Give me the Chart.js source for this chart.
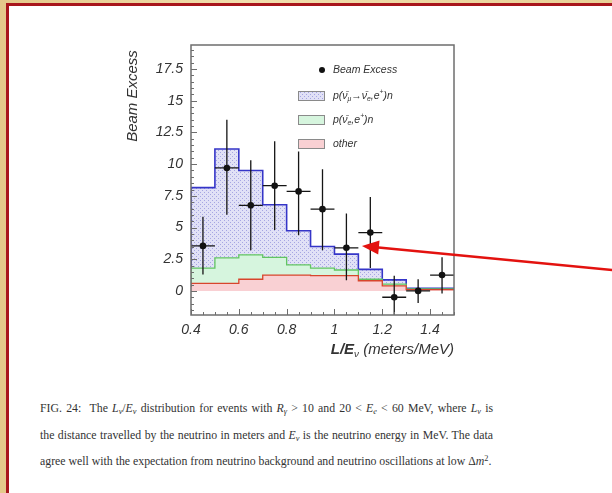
<!DOCTYPE html>
<html>
<head>
<meta charset="utf-8">
<script src="https://cdn.jsdelivr.net/npm/chart.js@4.4.1/dist/chart.umd.min.js"></script>
<style>
  body { margin: 0; }
  #frame { position: relative; width: 612px; height: 493px; overflow: hidden;
           background: linear-gradient(90deg, #e4c98a, #f1dfae 40%, #e8d197); }
  #paper { position: absolute; left: 6px; top: 3px; right: 0; bottom: 0; background: #fff;
           border-left: 3px solid #a8161c; border-top: 3px solid #a8161c; }
  #chart { position: absolute; left: 0; top: 0; }
  #caption { position: absolute; left: 40px; top: 395px; width: 453px;
             font-family: "Liberation Serif", "DejaVu Serif", serif; font-size: 11.8px; color: #333; }
  #caption div { line-height: 26.5px; text-align: justify; text-align-last: justify; white-space: nowrap; }
  #caption div.last { text-align-last: left; }
  #caption sub { font-size: 70%; vertical-align: -0.3em; line-height: 0; }
  #caption sup { font-size: 70%; vertical-align: 0.5em; line-height: 0; }
</style>
</head>
<body>
<div id="frame">
  <div id="paper"></div>
  <canvas id="chart" width="612" height="380"></canvas>
  <div id="caption">
    <div>FIG. 24: &nbsp;The <i>L<sub>ν</sub></i>/<i>E<sub>ν</sub></i> distribution for events with <i>R<sub>γ</sub></i> &gt; 10 and 20 &lt; <i>E<sub>e</sub></i> &lt; 60 MeV, where <i>L<sub>ν</sub></i> is</div>
    <div>the distance travelled by the neutrino in meters and <i>E<sub>ν</sub></i> is the neutrino energy in MeV. The data</div>
    <div class="last">agree well with the expectation from neutrino background and neutrino oscillations at low Δ<i>m</i><sup>2</sup>.</div>
  </div>
</div>
<script>
// bin edges in L/E (meters/MeV), one value per bin
const binEdges = [0.4, 0.5, 0.6, 0.7, 0.8, 0.9, 1.0, 1.1, 1.2, 1.3, 1.4, 1.5];
// stacked histogram tops
const otherTop = [0.3, 0.6, 0.6, 0.92, 1.25, 1.25, 1.2, 1.2, 0.8, 0.4, 0.1];
const nueTop   = [0.53, 1.8, 2.6, 2.85, 2.65, 2.05, 1.8, 1.65, 0.92, 0.53, 0.15];
const oscTop   = [1.65, 8.15, 11.2, 9.5, 6.8, 4.75, 3.5, 2.9, 1.7, 0.87, 0.2];
// beam excess points with error bars
const dataX    = [0.45, 0.55, 0.65, 0.75, 0.85, 0.95, 1.05, 1.15, 1.25, 1.35, 1.45];
const excess   = [3.55, 9.7, 6.75, 8.3, 7.85, 6.45, 3.4, 4.6, -0.5, 0.0, 1.25];
const errLow   = [1.3, 6.0, 3.2, 4.8, 4.4, 3.2, 0.85, 1.8, -2.4, -0.95, -0.2];
const errHigh  = [5.85, 13.5, 10.3, 11.8, 11.0, 9.6, 6.1, 7.4, 1.2, 0.92, 2.65];
const halfBin = 0.05;
// y tick labels shown
const yTickLabels = ['0', '2.5', '5', '7.5', '10', '12.5', '15', '17.5'];

function stepPoints(vals) {
    const pts = vals.map((v, i) => ({ x: binEdges[i], y: v }));
    pts.push({ x: binEdges[binEdges.length - 1], y: vals[vals.length - 1] });
    return pts;
}

// light blue cross-hatch for the oscillation component
function hatchPattern() {
    const c = document.createElement('canvas');
    c.width = 4; c.height = 4;
    const g = c.getContext('2d');
    g.fillStyle = '#e1e1f6';
    g.fillRect(0, 0, 4, 4);
    g.fillStyle = '#a6a6e2';
    g.fillRect(0, 0, 1, 1);
    g.fillRect(2, 2, 1, 1);
    return g.createPattern(c, 'repeat');
}
const hatch = hatchPattern();

const axisFont = '"Liberation Sans", Arial, sans-serif';

function richText(ctx, x, y, parts, size) {
    parts.forEach(p => {
        const s = p.sub || p.sup ? size * 0.65 : size;
        ctx.font = 'italic ' + (p.bold ? 'bold ' : '') + s + 'px ' + axisFont;
        const dy = p.sub ? size * 0.3 : (p.sup ? -size * 0.4 : 0);
        ctx.fillText(p.t, x, y + dy);
        x += ctx.measureText(p.t).width;
    });
    return x;
}
function richWidth(ctx, parts, size) {
    let w = 0;
    parts.forEach(p => {
        const s = p.sub || p.sup ? size * 0.65 : size;
        ctx.font = 'italic ' + (p.bold ? 'bold ' : '') + s + 'px ' + axisFont;
        w += ctx.measureText(p.t).width;
    });
    return w;
}

const decorPlugin = {
    id: 'decor',
    afterDatasetsDraw(chart) {
        const { ctx, chartArea: a, scales: { x, y } } = chart;
        ctx.save();
        ctx.beginPath();
        ctx.rect(a.left, a.top, a.right - a.left, a.bottom - a.top);
        ctx.clip();

        // error bars
        ctx.strokeStyle = '#151515';
        ctx.lineWidth = 1.3;
        dataX.forEach((cx, i) => {
            const px = x.getPixelForValue(cx);
            const py = y.getPixelForValue(excess[i]);
            ctx.beginPath();
            ctx.moveTo(px, y.getPixelForValue(errLow[i]));
            ctx.lineTo(px, y.getPixelForValue(errHigh[i]));
            ctx.moveTo(x.getPixelForValue(cx - halfBin), py);
            ctx.lineTo(x.getPixelForValue(cx + halfBin), py);
            ctx.stroke();
        });
        ctx.restore();

        // frame and inward ticks
        ctx.save();
        ctx.strokeStyle = '#6e6e6e';
        ctx.lineWidth = 1.5;
        ctx.strokeRect(a.left, a.top, a.right - a.left, a.bottom - a.top);
        ctx.lineWidth = 1;
        ctx.beginPath();
        for (let k = -3; k <= 38; k++) {
            const v = k * 0.5;
            if (v < y.min || v > y.max) continue;
            const py = Math.round(y.getPixelForValue(v)) + 0.5;
            const len = k % 5 === 0 ? 6 : 3;
            ctx.moveTo(a.left, py);
            ctx.lineTo(a.left + len, py);
        }
        for (let k = 8; k <= 30; k++) {
            const v = k * 0.05;
            const px = Math.round(x.getPixelForValue(v)) + 0.5;
            const len = k % 4 === 0 ? 6 : 3;
            ctx.moveTo(px, a.bottom);
            ctx.lineTo(px, a.bottom - len);
        }
        ctx.stroke();

        // legend
        const lx = a.left + 107, tx = a.left + 142;
        ctx.fillStyle = '#111';
        ctx.beginPath();
        ctx.arc(a.left + 131, a.top + 25, 3, 0, Math.PI * 2);
        ctx.fill();
        const boxes = [
            { y: a.top + 51, fill: hatch, parts: [{ t: 'p(ν̄' }, { t: 'μ', sub: 1 }, { t: '→ν̄' }, { t: 'e', sub: 1 }, { t: ',e' }, { t: '+', sup: 1 }, { t: ')n' }] },
            { y: a.top + 75, fill: '#d6f5de', parts: [{ t: 'p(ν̄' }, { t: 'e', sub: 1 }, { t: ',e' }, { t: '+', sup: 1 }, { t: ')n' }] },
            { y: a.top + 99, fill: '#f9d0d3', parts: [{ t: 'other' }] }
        ];
        ctx.textBaseline = 'middle';
        ctx.fillStyle = '#333';
        richText(ctx, tx, a.top + 25, [{ t: 'Beam Excess' }], 10.5);
        boxes.forEach(b => {
            ctx.fillStyle = b.fill;
            ctx.fillRect(lx, b.y - 4.5, 26, 9);
            ctx.strokeStyle = '#8a8a8a';
            ctx.lineWidth = 1;
            ctx.strokeRect(lx + 0.5, b.y - 4.5, 26, 9);
            ctx.fillStyle = '#333';
            richText(ctx, tx, b.y, b.parts, 10.5);
        });

        // axis titles
        ctx.fillStyle = '#333';
        ctx.textBaseline = 'middle';
        const xt = [{ t: 'L/E', bold: 1 }, { t: 'ν', sub: 1 }, { t: ' (meters/MeV)' }];
        richText(ctx, a.right - richWidth(ctx, xt, 15), a.bottom + 35, xt, 15);
        ctx.translate(a.left - 58, a.top + 51);
        ctx.rotate(-Math.PI / 2);
        ctx.font = 'italic 15px ' + axisFont;
        ctx.textAlign = 'center';
        ctx.fillText('Beam Excess', 0, 0);
        ctx.restore();
    },
    afterDraw(chart) {
        // red arrow pointing at the 1.0-1.2 region
        const { ctx, scales: { x, y } } = chart;
        const tipX = x.getPixelForValue(1.115), tipY = y.getPixelForValue(3.55);
        const dx = 250, dy = 24, L = Math.hypot(dx, dy);
        const ux = dx / L, uy = dy / L;
        ctx.save();
        ctx.strokeStyle = '#e3120f';
        ctx.fillStyle = '#e3120f';
        ctx.lineWidth = 2.5;
        ctx.beginPath();
        ctx.moveTo(tipX + ux * 14, tipY + uy * 14);
        ctx.lineTo(tipX + ux * 300, tipY + uy * 300);
        ctx.stroke();
        ctx.beginPath();
        ctx.moveTo(tipX, tipY);
        ctx.lineTo(tipX + ux * 17 - uy * 7, tipY + uy * 17 + ux * 7);
        ctx.lineTo(tipX + ux * 17 + uy * 7, tipY + uy * 17 - ux * 7);
        ctx.closePath();
        ctx.fill();
        ctx.restore();
    }
};

new Chart(document.getElementById('chart'), {
    type: 'line',
    data: {
        datasets: [
            {
                label: 'other',
                data: stepPoints(otherTop),
                stepped: 'after',
                borderColor: '#d8452c',
                borderWidth: 1.3,
                backgroundColor: '#f9d0d3',
                fill: 'origin',
                pointRadius: 0
            },
            {
                label: 'p(nu_e, e+)n',
                data: stepPoints(nueTop),
                stepped: 'after',
                borderColor: '#62c562',
                borderWidth: 1.3,
                backgroundColor: '#d6f5de',
                fill: '-1',
                pointRadius: 0
            },
            {
                label: 'p(nu_mu -> nu_e, e+)n',
                data: stepPoints(oscTop),
                stepped: 'after',
                borderColor: '#3535c8',
                borderWidth: 1.6,
                backgroundColor: hatch,
                fill: '-1',
                pointRadius: 0
            },
            {
                label: 'Beam Excess',
                data: dataX.map((v, i) => ({ x: v, y: excess[i] })),
                showLine: false,
                pointRadius: 3.3,
                pointBackgroundColor: '#111',
                pointBorderWidth: 0,
                order: -1
            }
        ]
    },
    options: {
        responsive: false,
        animation: false,
        layout: { padding: { left: 125, right: 158, top: 45, bottom: 0 } },
        plugins: { legend: { display: false }, tooltip: { enabled: false } },
        scales: {
            x: {
                type: 'linear',
                min: 0.4,
                max: 1.5,
                afterFit: s => { s.height = 65; },
                grid: { display: false, drawTicks: false },
                border: { display: false },
                ticks: {
                    stepSize: 0.2,
                    includeBounds: false,
                    padding: 7,
                    color: '#333',
                    font: { family: axisFont, size: 14, style: 'italic' },
                    callback: v => String(Number(v.toFixed(2)))
                }
            },
            y: {
                min: -1.9,
                max: 19.4,
                afterFit: s => { s.width = 66; },
                grid: { display: false, drawTicks: false },
                border: { display: false },
                ticks: {
                    stepSize: 2.5,
                    includeBounds: false,
                    padding: 8,
                    color: '#333',
                    font: { family: axisFont, size: 14, style: 'italic' },
                    callback: v => {
                        const s = String(Number(v.toFixed(2)));
                        return yTickLabels.includes(s) ? s : '';
                    }
                }
            }
        }
    },
    plugins: [decorPlugin]
});
</script>
</body>
</html>
